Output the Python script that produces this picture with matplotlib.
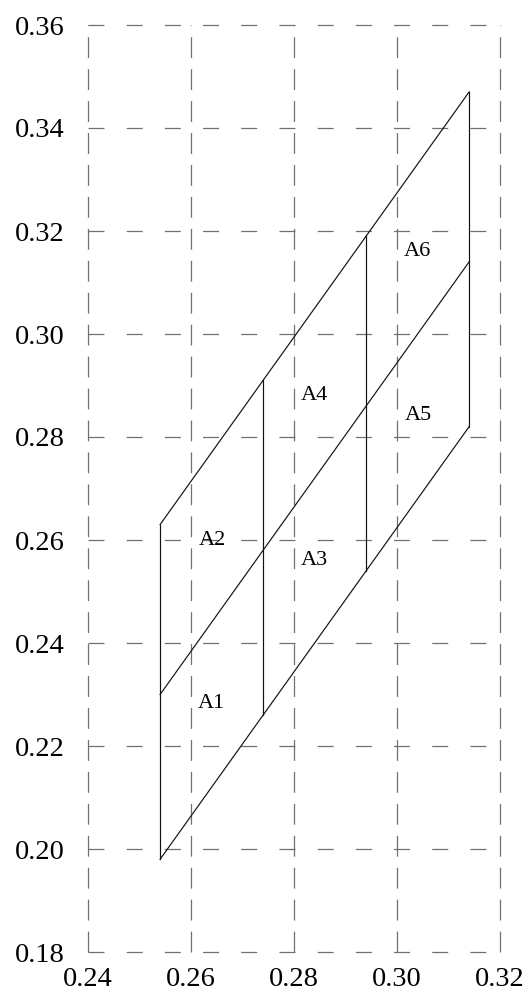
import matplotlib
matplotlib.use("Agg")
import matplotlib.pyplot as plt

plt.rcParams['font.family'] = ['Liberation Serif', 'DejaVu Serif']
plt.rcParams['lines.scale_dashes'] = False

# axis ticks
x_ticks = [0.24, 0.26, 0.28, 0.30, 0.32]
y_ticks = [0.18, 0.20, 0.22, 0.24, 0.26, 0.28, 0.30, 0.32, 0.34, 0.36]

# outer verticals of the parallelogram and the two dividers
x_edges = [0.254, 0.314]
x_dividers = [0.274, 0.294]

# slanted lines: (y at left edge, y at right edge)
lower_line = [0.198, 0.282]
middle_line = [0.230, 0.314]
upper_line = [0.263, 0.347]

# divider extents (bottom, top)
divider_bottom = [0.226, 0.254]
divider_top = [0.291, 0.319]

# region labels
labels = ['A1', 'A2', 'A3', 'A4', 'A5', 'A6']
label_x = [0.2639, 0.2641, 0.2840, 0.2840, 0.3042, 0.3040]
label_y = [0.2283, 0.2600, 0.2561, 0.2880, 0.2841, 0.3161]

fig = plt.figure(figsize=(5.28, 9.96), dpi=100)
ax = fig.add_axes([88/528, 1 - 952/996, 412/528, 927/996])

grid_col = '#707070'
for xv in x_ticks:
    ax.axvline(xv, color=grid_col, lw=0.9, linestyle=(0, (15, 8)), clip_on=False, zorder=1)
for yv in y_ticks:
    ax.axhline(yv, color=grid_col, lw=0.9, linestyle=(0, (11.5, 16)), clip_on=False, zorder=1)

lc = '#111111'
lw = 0.85
for line in [lower_line, middle_line, upper_line]:
    ax.plot(x_edges, line, color=lc, lw=lw, zorder=3)
# left and right edges
ax.plot([x_edges[0], x_edges[0]], [lower_line[0], upper_line[0]], color=lc, lw=lw, zorder=3)
ax.plot([x_edges[1], x_edges[1]], [lower_line[1], upper_line[1]], color=lc, lw=lw, zorder=3)
for xd, yb, yt in zip(x_dividers, divider_bottom, divider_top):
    ax.plot([xd, xd], [yb, yt], color=lc, lw=lw, zorder=3)

for t, lx, ly in zip(labels, label_x, label_y):
    ax.text(lx, ly, t, fontsize=16, ha='center', va='center', zorder=4)

ax.set_xlim(0.24, 0.32)
ax.set_ylim(0.18, 0.36)
ax.set_xticks(x_ticks)
ax.set_yticks(y_ticks)
ax.set_xticklabels(['%.2f' % v for v in x_ticks])
ax.set_yticklabels(['%.2f' % v for v in y_ticks])
ax.tick_params(axis='both', length=0, labelsize=20.5)
ax.tick_params(axis='y', pad=17)
ax.tick_params(axis='x', pad=11)
for s in ax.spines.values():
    s.set_visible(False)

fig.savefig('out.png', dpi=100)
